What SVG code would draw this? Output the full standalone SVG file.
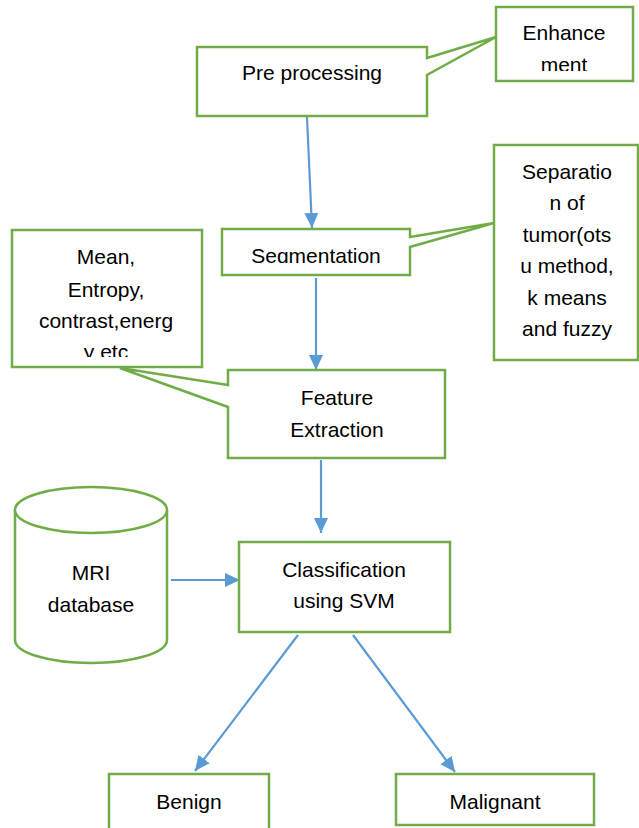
<svg xmlns="http://www.w3.org/2000/svg" width="639" height="828" viewBox="0 0 639 828">
<style>
.n{fill:#fff;stroke:#70AD47;stroke-width:2.5;stroke-linejoin:miter}
.t{font-family:"Liberation Sans",Arial,sans-serif;font-size:21px;fill:#000;text-anchor:middle}
.c{fill:none;stroke:#5B9BD5;stroke-width:2.2}
</style>
<defs>
<marker id="ah" markerUnits="userSpaceOnUse" markerWidth="16" markerHeight="16" viewBox="0 0 16 16" refX="15" refY="8" orient="auto">
<path d="M0,1 L15,8 L0,15 Z" fill="#5B9BD5"/>
</marker>
<clipPath id="cEnh"><rect x="496" y="7" width="137" height="64"/></clipPath>
<clipPath id="cSeg"><rect x="221" y="228" width="189" height="35"/></clipPath>
<clipPath id="cMean"><rect x="12" y="230" width="190" height="127"/></clipPath>
</defs>
<rect width="639" height="828" fill="#fff"/>
<g id="connectors">
<line class="c" x1="307" y1="117" x2="312" y2="228" marker-end="url(#ah)"/>
<line class="c" x1="316" y1="278" x2="316" y2="370" marker-end="url(#ah)"/>
<line class="c" x1="321" y1="460" x2="321" y2="533" marker-end="url(#ah)"/>
<line class="c" x1="171" y1="580" x2="240" y2="580" marker-end="url(#ah)"/>
<line class="c" x1="298" y1="635" x2="195" y2="771" marker-end="url(#ah)"/>
<line class="c" x1="353" y1="635" x2="455" y2="772" marker-end="url(#ah)"/>
</g>
<g id="preprocessing">
<path class="n" d="M427,58 L496,37 L427,75 V116 H197 V47 H427 Z"/>
<text class="t" x="312" y="80">Pre processing</text>
</g>
<g id="enhancement">
<rect class="n" x="496" y="7" width="137" height="74"/>
<g clip-path="url(#cEnh)">
<text class="t" x="564" y="40">Enhance</text>
<text class="t" x="564" y="72">ment</text>
</g>
</g>
<g id="segmentation">
<path class="n" d="M410,237 L494,223 L410,247 V275 H222 V229 H410 Z"/>
<g clip-path="url(#cSeg)">
<text class="t" x="316" y="263">Segmentation</text>
</g>
</g>
<g id="separation">
<rect class="n" x="494" y="145" width="144" height="215"/>
<text class="t" x="567" y="179">Separatio</text>
<text class="t" x="567" y="210">n of</text>
<text class="t" x="567" y="242">tumor(ots</text>
<text class="t" x="567" y="273">u method,</text>
<text class="t" x="567" y="305">k means</text>
<text class="t" x="567" y="336">and fuzzy</text>
</g>
<g id="features-list">
<rect class="n" x="12" y="230" width="190" height="137"/>
<g clip-path="url(#cMean)">
<text class="t" x="106" y="264">Mean,</text>
<text class="t" x="106" y="297">Entropy,</text>
<text class="t" x="106" y="328">contrast,energ</text>
<text class="t" x="106" y="359">y etc</text>
</g>
</g>
<g id="feature-extraction">
<path class="n" d="M228,385 L120,368 L228,407 V458 H445 V370 H228 Z"/>
<text class="t" x="337" y="405">Feature</text>
<text class="t" x="337" y="437">Extraction</text>
</g>
<g id="mri-database">
<path class="n" d="M15,510 V640 A76,23 0 0 0 167,640 V510"/>
<ellipse class="n" cx="91" cy="510" rx="76" ry="23"/>
<text class="t" x="91" y="580">MRI</text>
<text class="t" x="91" y="612">database</text>
</g>
<g id="classification">
<rect class="n" x="239" y="542" width="211" height="90"/>
<text class="t" x="344" y="577">Classification</text>
<text class="t" x="344" y="608">using SVM</text>
</g>
<g id="benign">
<rect class="n" x="109" y="774" width="160" height="70"/>
<text class="t" x="189" y="809">Benign</text>
</g>
<g id="malignant">
<rect class="n" x="396" y="774" width="198" height="51"/>
<text class="t" x="495" y="809">Malignant</text>
</g>
</svg>
